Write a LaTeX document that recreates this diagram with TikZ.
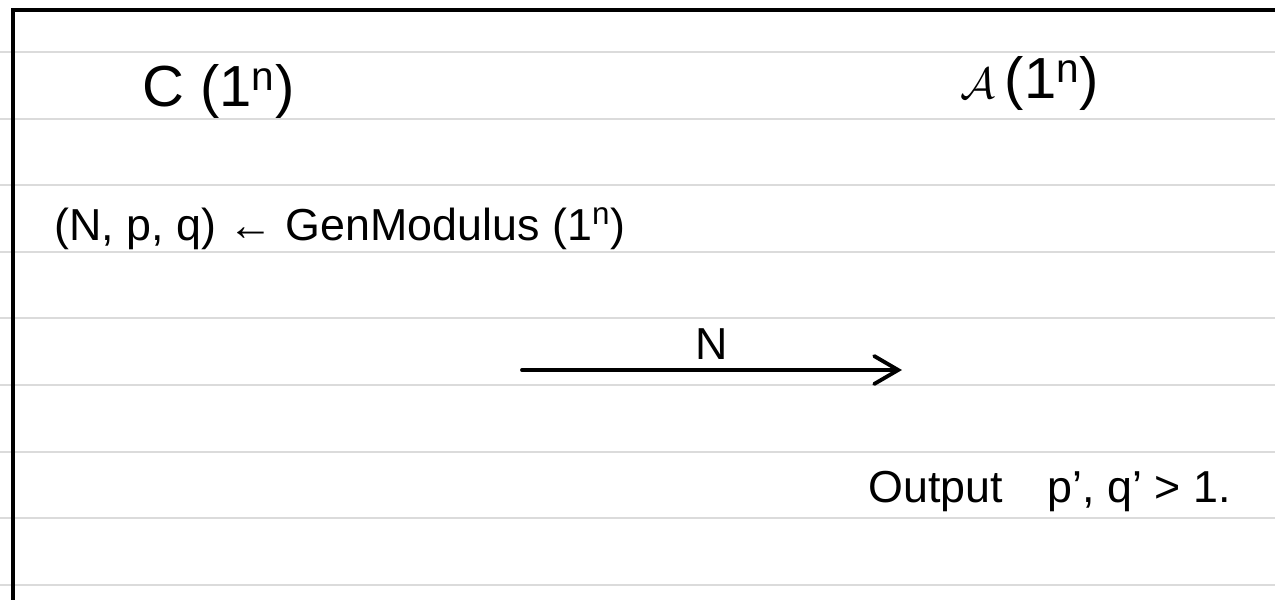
\documentclass[tikz,border=0pt]{standalone}
\usepackage{fontspec}
\setmainfont{Liberation Sans}
\usetikzlibrary{arrows.meta}

\tikzset{
    hand/.style={font=\fontsize{25.5}{30}\selectfont, inner sep=0pt},
    bighand/.style={font=\fontsize{33}{38}\selectfont, inner sep=0pt},
    rule/.style={draw=black!14, line width=1.2pt},
    frame/.style={line width=2.4pt},
    msg/.style={line width=2.2pt, line cap=round,
        -{Straight Barb[length=0.48cm, width=0.56cm, line cap=round]}}
}

\begin{document}
\begin{tikzpicture}[x=0.02cm, y=-0.02cm]
    % --- 画布大小 (按像素) ---
    \def\W{1275}
    \def\H{600}
    \def\gap{66.6}   % 横线间距
    \useasboundingbox (0,0) rectangle (\W,\H);

    % --- 笔记本横线 ---
    \foreach \k in {0,...,8}
        \draw[rule] (0, 52 + \k*\gap) -- (\W, 52 + \k*\gap);

    % --- 外框 (上边和左边) ---
    \draw[frame] (\W, 10) -- (13, 10) -- (13, \H);

    % --- 两方 ---
    \node[bighand, anchor=base west] (challenger) at (142, 106) {C (1\textsuperscript{n})};
    \node[bighand, anchor=base west] (adversary) at (960, 98)
        {{\fontsize{44}{48}\selectfont$\mathcal{A}$}\,(1\textsuperscript{n})};

    % --- 挑战者生成模数 ---
    \node[hand, anchor=base west] (genmod) at (54, 240)
        {(N, p, q) ← GenModulus (1\textsuperscript{n})};

    % --- 发送 N ---
    \coordinate (sendL) at (522, 370);
    \coordinate (sendR) at (902, 370);
    \draw[msg] (sendL) -- (sendR) node[hand, midway, above=5pt] (msgN) {N};

    % --- 敌手输出 ---
    \node[hand, anchor=base west] (output) at (868, 502) {Output\quad p’, q’ > 1.};

\end{tikzpicture}
\end{document}
